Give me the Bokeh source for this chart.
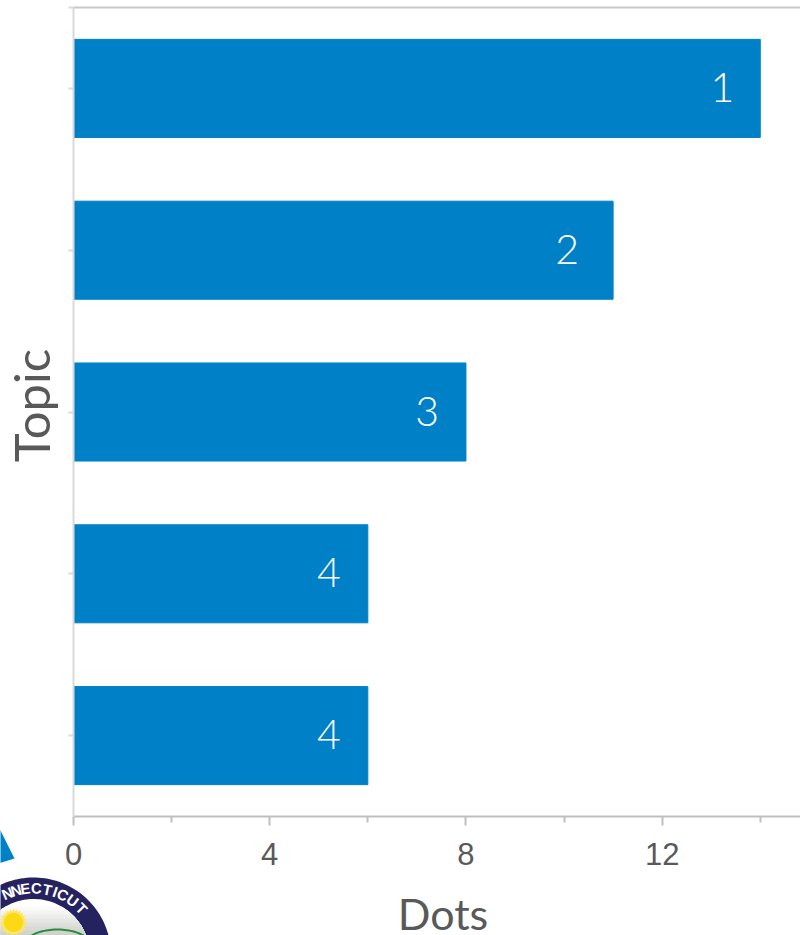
import numpy as np
from bokeh.core.properties import value
from bokeh.embed import file_html
from bokeh.layouts import column, row
from bokeh.models import ColumnDataSource, FixedTicker, LinearAxis, Range1d
from bokeh.plotting import figure
from bokeh.resources import INLINE

# Dots per topic, top bar first, and the rank printed on each bar
dots = [14, 11, 8, 6, 6]
ranks = ["1", "2", "3", "4", "4"]
major_ticks = [0, 4, 8, 12]
minor_ticks = [2, 6, 10, 14]
x_title = "Dots"
y_title = "Topic"

BLUE = "#0080C6"
GREY_TEXT = "#595959"
WIDTH, HEIGHT = 800, 935

positions = [i + 0.5 for i in range(len(dots))]
rank_nudge = [-26, -34, -27, -27, -27]
source = ColumnDataSource(dict(y=positions, dots=dots, rank=ranks, nudge=rank_nudge))

p = figure(
    width=WIDTH, height=HEIGHT,
    x_range=Range1d(0, 14.82), y_range=Range1d(5, 0),
    output_backend="svg", toolbar_location=None,
    min_border_left=73, min_border_right=0, min_border_top=7, min_border_bottom=119,
)
p.grid.visible = False
p.outline_line_color = None

p.hbar(y="y", right="dots", left=0, height=0.606, source=source, color=BLUE)
p.text(x="dots", y="y", text="rank", source=source, text_color="white",
       text_font=value("Lato Light"), text_font_size="41px",
       text_align="right", text_baseline="middle", x_offset="nudge", y_offset=-1)

xaxis = p.xaxis[0]
xaxis.ticker = FixedTicker(ticks=major_ticks, minor_ticks=minor_ticks)
xaxis.axis_line_color = "#BFBFBF"
xaxis.axis_line_width = 2
xaxis.major_tick_line_color = "#BFBFBF"
xaxis.major_tick_line_width = 2
xaxis.major_tick_in = 0
xaxis.major_tick_out = 9
xaxis.minor_tick_line_color = "#BFBFBF"
xaxis.minor_tick_line_width = 2
xaxis.minor_tick_in = 0
xaxis.minor_tick_out = 6
xaxis.major_label_text_font = "Liberation Sans"
xaxis.major_label_text_font_size = "31px"
xaxis.major_label_text_color = GREY_TEXT
xaxis.major_label_standoff = 17

yaxis = p.yaxis[0]
yaxis.ticker = FixedTicker(ticks=[0] + positions)
yaxis.major_label_overrides = {tick: "" for tick in [0] + positions}
yaxis.major_label_standoff = 0
yaxis.axis_line_color = "#D9D9D9"
yaxis.axis_line_width = 2
yaxis.major_tick_line_color = "#D9D9D9"
yaxis.major_tick_line_width = 2
yaxis.major_tick_in = 0
yaxis.major_tick_out = 5
yaxis.minor_tick_line_color = None

top_axis = LinearAxis(ticker=FixedTicker(ticks=[]), major_label_overrides={},
                      axis_line_color="#C8C8C8", axis_line_width=2,
                      major_tick_line_color=None, minor_tick_line_color=None)
p.add_layout(top_axis, "above")

# Transparent layer in canvas pixels: axis titles, arrow tip and seal
q = figure(width=WIDTH, height=HEIGHT,
           x_range=Range1d(0, WIDTH), y_range=Range1d(HEIGHT, 0),
           x_axis_location=None, y_axis_location=None,
           output_backend="svg", toolbar_location=None,
           min_border=0, outline_line_color=None,
           background_fill_alpha=0, border_fill_alpha=0)
q.grid.visible = False

q.text([442.5], [913], text=[x_title], text_color=GREY_TEXT, text_font=value("Lato"),
       text_font_size="43px", text_align="center", text_baseline="middle")
q.text([30], [405], text=[y_title], angle=np.pi / 2, text_color=GREY_TEXT, text_font=value("Lato"),
       text_font_size="49px", text_align="center", text_baseline="middle")


def disc(cx, cy, r, color, y_from=None):
    t = np.linspace(0, 2 * np.pi, 160)
    xs = cx + r * np.cos(t)
    ys = cy + r * np.sin(t)
    if y_from is not None:
        ys = np.maximum(ys, y_from)
    q.patch(xs, ys, color=color, line_color=None)


q.patch([-2, 14, -2], [826, 858, 863], color=BLUE, line_color=None)

SEAL_X, SEAL_Y = 33, 954.5
disc(SEAL_X, SEAL_Y, 77.5, "#25235F")
disc(SEAL_X, SEAL_Y, 56, "#FFFFFF")
shades = ["#FAFAF9", "#F4F5F2", "#EDEEEB", "#E6E7E4", "#DFE0DD", "#D8DAD6", "#D1D3CF", "#CBCDC9"]
for y_from, shade in zip(range(906, 935, 4), shades):
    disc(SEAL_X, SEAL_Y, 56, shade, y_from=y_from)

# Sun with its rays
ray_angles = np.linspace(0, 2 * np.pi, 49)
ray_radii = np.where(np.arange(49) % 2 == 0, 14, 11)
q.patch(13 + ray_radii * np.cos(ray_angles), 922 + ray_radii * np.sin(ray_angles), color="#FFE566", line_color=None)
disc(13, 922, 9.5, "#FBD914")

# Green hill line
arc = np.linspace(np.pi, 2 * np.pi, 50)
q.line(57 + 33 * np.cos(arc), 945 + 16 * np.sin(arc), line_color="#2E8B3D", line_width=2)

# Lettering around the ring
letters = list("NNECTICUT")
angles = np.array([-23, -15, -7, 2.5, 12, 19, 26, 35.6, 46])
rad = np.deg2rad(angles)
q.text(SEAL_X + 67 * np.sin(rad), SEAL_Y - 67 * np.cos(rad), text=letters, angle=-rad,
       text_color="white", text_font=value("Liberation Sans"), text_font_style="bold",
       text_font_size="15px", text_align="center", text_baseline="middle")

layer = row(q, margin=(-HEIGHT, 0, 0, 0))
layout = column(p, layer, spacing=0)
open("out.html", "w").write(file_html(layout, INLINE))
